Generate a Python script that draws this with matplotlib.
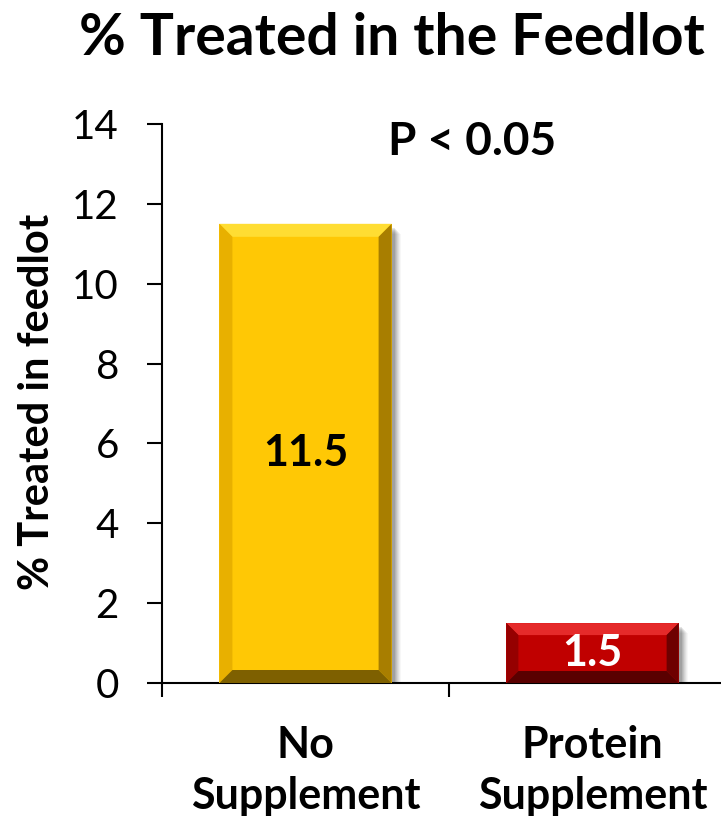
import matplotlib.pyplot as plt
from matplotlib.patches import Polygon, Rectangle
import numpy as np

plt.rcParams['font.family'] = ['Lato', 'DejaVu Sans']

categories = ['No\nSupplement', 'Protein\nSupplement']
values = [11.5, 1.5]
bar_colors = ['#FFC805', '#C00000']
label_colors = ['black', 'white']
# bevel shades: top, left, right, bottom
bevels = [['#FFDD33', '#E8B000', '#A87E00', '#7E6000'],
          ['#E52A2A', '#950000', '#6E0000', '#5A0000']]

fig = plt.figure(figsize=(7.21, 8.25), dpi=100)
ax = fig.add_axes([162 / 721, 142 / 825, 574 / 721, 559 / 825])
x = np.arange(len(values))
bars = ax.bar(x, values, width=0.6, color=bar_colors, zorder=3)
ax.set_xlim(-0.5, 1.5)
ax.set_ylim(0, 14)

fig.canvas.draw()
inv = ax.transData.inverted()
for bar, shades in zip(bars, bevels):
    x0, y0 = bar.get_x(), bar.get_y()
    x1, y1 = x0 + bar.get_width(), y0 + bar.get_height()
    (px0, py0), (px1, py1) = ax.transData.transform([(x0, y0), (x1, y1)])
    b = min(13, (py1 - py0) / 5)
    # soft shadow
    for k, a in zip(range(1, 8), [0.10, 0.08, 0.07, 0.06, 0.05, 0.04, 0.03]):
        corners = inv.transform([(px0 + 4 + k, py0 - k), (px1 + 2 + k, py1 - 3 - k)])
        ax.add_patch(Rectangle(corners[0], corners[1][0] - corners[0][0],
                               corners[1][1] - corners[0][1], color='black',
                               alpha=a, lw=0, zorder=2))
    ix0, iy0, ix1, iy1 = px0 + b, py0 + b, px1 - b, py1 - b
    polys = [
        [(px0, py1), (px1, py1), (ix1, iy1), (ix0, iy1)],
        [(px0, py0), (px0, py1), (ix0, iy1), (ix0, iy0)],
        [(px1, py0), (px1, py1), (ix1, iy1), (ix1, iy0)],
        [(px0, py0), (px1, py0), (ix1, iy0), (ix0, iy0)],
    ]
    for poly, c in zip(polys, shades):
        ax.add_patch(Polygon(inv.transform(poly), closed=True, color=c, lw=0, zorder=4))

for xi, v, c in zip(x, values, label_colors):
    ax.text(xi, v / 2, f'{v}', ha='center', va='center', fontsize=31,
            fontweight='bold', color=c, zorder=5)

ax.text(0.58, 13.55, 'P < 0.05', ha='center', va='center', fontsize=33,
        fontweight='bold')

fig.text(0.543, 0.953, '% Treated in the Feedlot', ha='center', va='center',
         fontsize=41, fontweight='bold')

fig.text(37 / 721, 0.513, '% Treated in feedlot', rotation=90, ha='center',
         va='center', fontsize=30, fontweight='bold')
ax.set_yticks(range(0, 15, 2))
ax.tick_params(axis='y', labelsize=29, length=11, width=1.5, pad=20,
               direction='out')

ax.set_xticks([-0.5, 0.5, 1.5])
ax.set_xticklabels([])
ax.tick_params(axis='x', which='major', length=10, width=1.5, direction='out')
ax.set_xticks(x, minor=True)
ax.set_xticklabels(categories, minor=True, fontsize=31, fontweight='bold',
                   linespacing=1.35)
ax.tick_params(axis='x', which='minor', length=0, pad=30)

for s in ['top', 'right']:
    ax.spines[s].set_visible(False)
for s in ['left', 'bottom']:
    ax.spines[s].set_linewidth(1.5)

fig.savefig('out.png', dpi=100)
